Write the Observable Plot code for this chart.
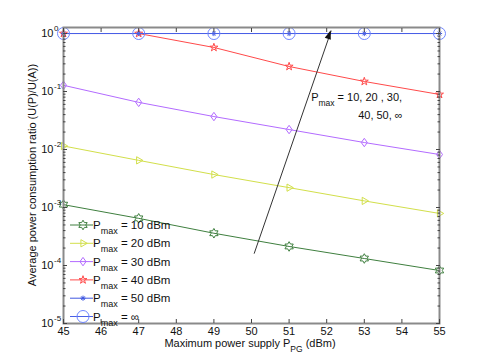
<!DOCTYPE html>
<html><head><meta charset="utf-8">
<script src="https://cdn.jsdelivr.net/npm/d3@7"></script>
<script src="https://cdn.jsdelivr.net/npm/@observablehq/plot@0.6"></script>
<style>body{margin:0;background:#fff;} #chart{width:485px;height:363px;}</style>
</head><body><div id="chart"></div>
<script>
// ---- data ----
const xValues = [45, 47, 49, 51, 53, 55];
const p10 = [0.00112, 0.00065, 0.00036, 0.000213, 0.000132, 0.000082];
const p20 = [0.0115, 0.0065, 0.0037, 0.0022, 0.0013, 0.00079];
const p30 = [0.128, 0.065, 0.037, 0.0221, 0.0132, 0.0082];
const p40 = [1, 1, 0.575, 0.27, 0.149, 0.089];
const p50 = [1, 1, 1, 1, 1, 1];
const pInf = [1, 1, 1, 1, 1, 1];
const seriesLabels = ["10 dBm", "20 dBm", "30 dBm", "40 dBm", "50 dBm", "\u221e"];
const xTicks = [45, 46, 47, 48, 49, 50, 51, 52, 53, 54, 55];
const yMajor = [1e-5, 1e-4, 1e-3, 1e-2, 1e-1, 1];
const yExponents = ["-5", "-4", "-3", "-2", "-1", "0"];
const arrowData = [{x1: 50.07, y1: 1.6e-4, x2: 52.12, y2: 1.12}];
const annotation = {x: 51.6, y: 0.067, x2: 52.85, y2: 0.033, line1: " = 10, 20 , 30,", line2: "40, 50, \u221e"};
const xLabel = ["Maximum power supply P", "PG", " (dBm)"];
const yLabel = "Average power consumption ratio (U(P)/U(A))";

// ---- styling ----
const colors = ["#3f7f3f", "#d2df4a", "#b36bff", "#ff4a4a", "#4058e0", "#6f86ff"];
const lineColors = ["#3f7f3f", "#d2df4a", "#b36bff", "#ff4a4a", "#4058e0", "#4a60e6"];

const minorTicks = [];
for (const d of [1e-5, 1e-4, 1e-3, 1e-2, 1e-1]) for (let k = 2; k <= 9; k++) minorTicks.push(d * k);

// custom symbols (radius from size = pi r^2)
const rad = s => Math.sqrt(s / Math.PI);
function poly(ctx, pts) { ctx.moveTo(pts[0][0], pts[0][1]); for (let i = 1; i < pts.length; i++) ctx.lineTo(pts[i][0], pts[i][1]); ctx.closePath(); }
function starPts(n, R, r) {
  const pts = [];
  for (let i = 0; i < 2 * n; i++) { const a = -Math.PI / 2 + i * Math.PI / n; const rr = i % 2 ? r : R; pts.push([rr * Math.cos(a), rr * Math.sin(a)]); }
  return pts;
}
const hexagram = {draw(ctx, s) { const R = rad(s); poly(ctx, starPts(6, R, R / Math.sqrt(3))); }};
const triRight = {draw(ctx, s) { const R = rad(s); poly(ctx, [[R, 0], [-R / 2, -R * 0.866], [-R / 2, R * 0.866]]); }};
const diamond = {draw(ctx, s) { const R = rad(s); poly(ctx, [[0, -R], [R * 0.72, 0], [0, R], [-R * 0.72, 0]]); }};
const pentagram = {draw(ctx, s) { const R = rad(s); poly(ctx, starPts(5, R, R * 0.382)); }};
const asterisk = {draw(ctx, s) { const R = rad(s); const d = R * 0.707;
  ctx.moveTo(0, -R); ctx.lineTo(0, R); ctx.moveTo(-R, 0); ctx.lineTo(R, 0);
  ctx.moveTo(-d, -d); ctx.lineTo(d, d); ctx.moveTo(-d, d); ctx.lineTo(d, -d); }};
const circle = {draw(ctx, s) { const R = rad(s); ctx.moveTo(R, 0); ctx.arc(0, 0, R, 0, 2 * Math.PI); }};
const symbols = [hexagram, triRight, diamond, pentagram, asterisk, circle];
const symbolR = [4.8, 4.2, 4.2, 4.2, 2.6, 6];

const seriesValues = [p10, p20, p30, p40, p50, pInf];
const rows = [];
seriesValues.forEach((vals, si) => vals.forEach((v, i) => rows.push({s: seriesLabels[si], si, x: xValues[i], v})));

const fam = "'Liberation Sans', Arial, Helvetica, sans-serif";
const tickStyle = {stroke: "#444", label: null, tickFormat: () => ""};

const marks = [];
seriesValues.forEach((vals, si) => {
  const data = rows.filter(r => r.si === si);
  marks.push(Plot.line(data, {x: "x", y: "v", stroke: lineColors[si], strokeWidth: 1}));
  marks.push(Plot.dot(data, {x: "x", y: "v", symbol: symbols[si], r: symbolR[si], stroke: colors[si], fill: si === 4 ? colors[si] : "none", strokeWidth: 1}));
});

const plot = Plot.plot({
  width: 485, height: 363,
  marginLeft: 63, marginRight: 46, marginTop: 27, marginBottom: 40,
  style: {fontFamily: fam, fontSize: "11px", background: "#fff", color: "#111"},
  x: {domain: [45, 55]},
  y: {type: "log", domain: [1e-5, 1.27]},
  marks: [
    ...marks,
    Plot.link(arrowData, {x1: "x1", y1: "y1", x2: "x2", y2: "y2", stroke: "#333", strokeWidth: 1}),
    Plot.frame({stroke: "#8a8a8a", strokeWidth: 2}),
    Plot.axisX(xTicks, {anchor: "bottom", tickSize: -4, ...tickStyle}),
    Plot.axisX(xTicks, {anchor: "top", tickSize: -4, ...tickStyle}),
    Plot.axisX(xTicks, {anchor: "bottom", tickSize: 0, tickPadding: 4, label: null, fontSize: 11, tickFormat: d => String(d)}),
    Plot.axisY(yMajor, {anchor: "left", tickSize: -4, ...tickStyle}),
    Plot.axisY(yMajor, {anchor: "right", tickSize: -4, ...tickStyle}),
    Plot.axisY(minorTicks, {anchor: "left", tickSize: -2.5, ...tickStyle}),
    Plot.axisY(minorTicks, {anchor: "right", tickSize: -2.5, ...tickStyle}),
    Plot.text(yMajor, {y: d => d, text: () => "10", frameAnchor: "left", textAnchor: "end", dx: -10, fontSize: 11}),
    Plot.text(yMajor.map((v, i) => ({v, e: yExponents[i]})), {y: "v", text: "e", frameAnchor: "left", textAnchor: "start", dx: -9.5, dy: -5, fontSize: 8})
  ]
});
document.getElementById("chart").appendChild(plot);

// ---- post-processing: text with sub/superscripts, legend, arrowhead ----
const svg = d3.select(plot);
const sx = plot.scale("x"), sy = plot.scale("y");

// arrowhead
{
  const a = arrowData[0];
  const X1 = sx.apply(a.x1), Y1 = sy.apply(a.y1), X2 = sx.apply(a.x2), Y2 = sy.apply(a.y2);
  const ang = Math.atan2(Y2 - Y1, X2 - X1);
  const L = 9, W = 3.2;
  const bx = X2 - L * Math.cos(ang), by = Y2 - L * Math.sin(ang);
  const px = -Math.sin(ang) * W, py = Math.cos(ang) * W;
  svg.append("path").attr("d", `M${X2},${Y2}L${bx + px},${by + py}L${bx - px},${by - py}Z`).attr("fill", "#111");
}

// x label
{
  const t = svg.append("text").attr("x", 250).attr("y", 347).attr("text-anchor", "middle")
    .attr("font-family", fam).attr("font-size", 11).attr("fill", "#111");
  t.append("tspan").text(xLabel[0]);
  t.append("tspan").attr("dy", 5).attr("font-size", 8.5).text(xLabel[1]);
  t.append("tspan").attr("dy", -5).text(xLabel[2]);
}
// y label
svg.append("text").attr("transform", "translate(36,175) rotate(-90)").attr("text-anchor", "middle")
  .attr("font-family", fam).attr("font-size", 11).attr("fill", "#111").text(yLabel);

// annotation
{
  const t = svg.append("text").attr("x", sx.apply(annotation.x)).attr("y", sy.apply(annotation.y))
    .attr("text-anchor", "start").attr("font-family", fam).attr("font-size", 11).attr("fill", "#111");
  t.append("tspan").text("P");
  t.append("tspan").attr("dy", 5).attr("font-size", 8.5).text("max");
  t.append("tspan").attr("dy", -5).text(annotation.line1);
  svg.append("text").attr("x", sx.apply(annotation.x2)).attr("y", sy.apply(annotation.y2))
    .attr("text-anchor", "start").attr("font-family", fam).attr("font-size", 11).attr("fill", "#111").text(annotation.line2);
}

// legend
seriesLabels.forEach((lab, i) => {
  const g = svg.append("g").attr("transform", `translate(70,${225 + i * 18.3})`);
  g.append("line").attr("x1", 0).attr("x2", 23).attr("stroke", lineColors[i]).attr("stroke-width", 1);
  g.append("path").attr("transform", "translate(13,0)")
    .attr("d", d3.symbol().type(symbols[i]).size(Math.PI * symbolR[i] * symbolR[i])())
    .attr("stroke", colors[i]).attr("fill", i === 4 ? colors[i] : "none");
  const t = g.append("text").attr("x", 23).attr("y", 4).attr("text-anchor", "start")
    .attr("font-family", fam).attr("font-size", 11.5).attr("fill", "#111");
  t.append("tspan").text("P");
  t.append("tspan").attr("dy", 5).attr("font-size", 9).text("max");
  t.append("tspan").attr("dy", -5).text(" = " + lab);
});
</script>
</body></html>
